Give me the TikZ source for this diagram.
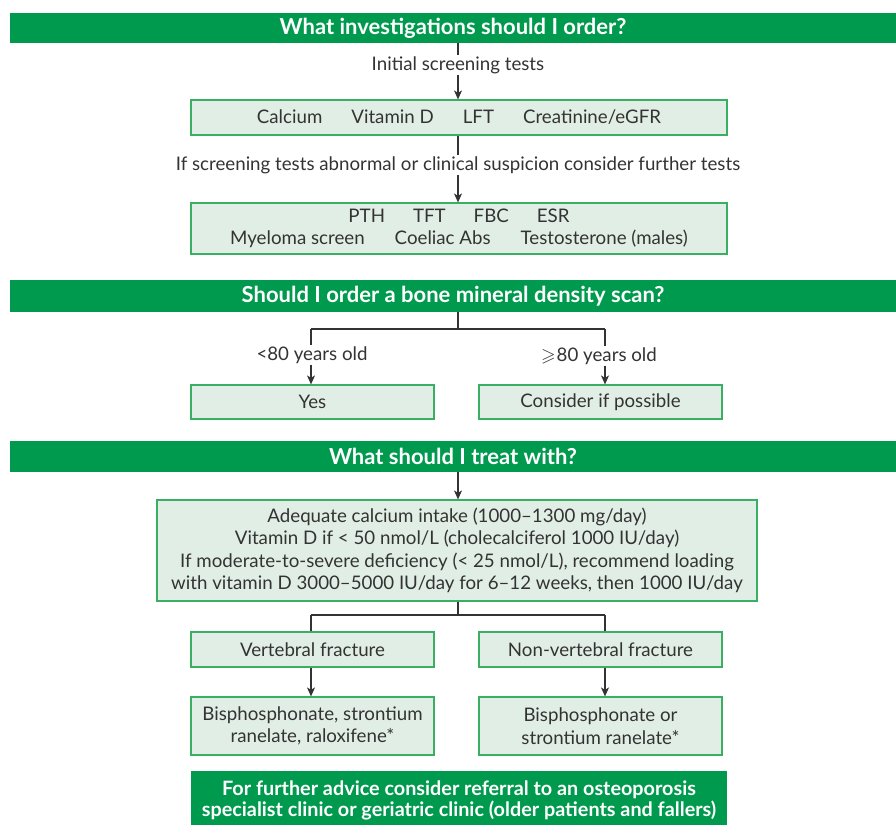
\documentclass[tikz,border=0pt]{standalone}
\usepackage{amssymb}
\usepackage{fontspec}
\setmainfont{Lato}
\usetikzlibrary{arrows.meta}
\definecolor{bandgreen}{HTML}{009A4E}
\definecolor{boxfill}{HTML}{E1EEE5}
\definecolor{boxline}{HTML}{3AAE63}
\definecolor{ink}{HTML}{333333}
\begin{document}
\begin{tikzpicture}[x=1pt,y=-1pt,
  band/.style={fill=bandgreen, text=white, font=\fontsize{22}{24}\selectfont\bfseries, inner sep=0pt, align=center},
  box/.style={draw=boxline, line width=1.2pt, fill=boxfill, text=ink, font=\fontsize{18.7}{22.5}\selectfont, inner sep=0pt, align=center},
  lbl/.style={text=ink, font=\fontsize{18.7}{22}\selectfont, inner sep=1pt},
  conn/.style={draw=ink, line width=1.2pt},
  arr/.style={conn, -{Stealth[length=9pt,width=8pt,inset=2.5pt]}}]
\useasboundingbox (0,0) rectangle (896,824);

% Section 1
\node[band, minimum width=886pt, minimum height=30pt] (band1) at (453,28) {What investigations should I order?};
\node[lbl] (l1) at (458,65) {Initial screening tests};
\node[box, minimum width=536pt, minimum height=35pt] (b1) at (459,117.5) {Calcium\hspace{29pt}Vitamin D\hspace{29pt}LFT\hspace{29pt}Creatinine/eGFR};
\node[lbl] (l2) at (458,165) {If screening tests abnormal or clinical suspicion consider further tests};
\node[box, minimum width=536pt, minimum height=51pt] (b2) at (459,228.5) {PTH\hspace{28pt}TFT\hspace{28pt}FBC\hspace{28pt}ESR\\Myeloma screen\hspace{30pt}Coeliac Abs\hspace{30pt}Testosterone (males)};

\draw[conn] (band1.south -| l1) -- (l1.north);
\draw[arr] (l1.south) -- (l1.south |- b1.north);
\draw[conn] (b1.south -| l2) -- (l2.north);
\draw[arr] (l2.south) -- (l2.south |- b2.north);

% Section 2
\node[band, minimum width=886pt, minimum height=32pt] (band2) at (453,296) {Should I order a bone mineral density scan?};
\coordinate (j2) at (458,329);
\node[box, minimum width=243pt, minimum height=34pt] (yes) at (312.5,402) {Yes};
\node[box, minimum width=243pt, minimum height=34pt] (cons) at (600.5,402) {Consider if possible};
\node[lbl] (l3) at (312,355) {<80 years old};
\node[lbl] (l4) at (599,356) {$\geqslant$\kern1pt80 years old};
\coordinate (bl) at (311,329);
\coordinate (br) at (605,329);
\draw[conn] (band2.south -| j2) -- (j2);
\draw[conn] (bl) -- (br);
\draw[conn] (bl) -- (bl |- l3.north);
\draw[conn] (br) -- (br |- l4.north);
\draw[arr] (bl |- l3.south) -- (bl |- yes.north);
\draw[arr] (br |- l4.south) -- (br |- cons.north);

% Section 3
\node[band, minimum width=886pt, minimum height=31pt] (band3) at (453,456.5) {What should I treat with?};
\node[box, minimum width=600pt, minimum height=101pt] (b3) at (457,550.5) {Adequate calcium intake (1000--1300 mg/day)\\Vitamin D if < 50 nmol/L (cholecalciferol 1000 IU/day)\\If moderate-to-severe deficiency (< 25 nmol/L), recommend loading\\with vitamin D 3000--5000 IU/day for 6--12 weeks, then 1000 IU/day};
\draw[arr] (band3.south -| j2) -- (b3.north -| j2);

\node[box, minimum width=243pt, minimum height=35pt] (vf) at (312.5,649.5) {Vertebral fracture};
\node[box, minimum width=243pt, minimum height=35pt] (nvf) at (600.5,649.5) {Non-vertebral fracture};
\coordinate (j3) at (458,615);
\coordinate (cl) at (311,615);
\coordinate (cr) at (605,615);
\draw[conn] (b3.south -| j3) -- (j3);
\draw[conn] (cl) -- (cr);
\draw[conn] (cl) -- (cl |- vf.north);
\draw[conn] (cr) -- (cr |- nvf.north);

\node[box, minimum width=243pt, minimum height=58pt] (t1) at (312.5,726) {Bisphosphonate, strontium\\ranelate, raloxifene*};
\node[box, minimum width=243pt, minimum height=58pt] (t2) at (600.5,726) {Bisphosphonate or\\strontium ranelate*};
\draw[arr] (cl |- vf.south) -- (cl |- t1.north);
\draw[arr] (cr |- nvf.south) -- (cr |- t2.north);

\node[band, minimum width=536pt, minimum height=59pt, font=\fontsize{19.8}{21.5}\selectfont\bfseries] (fin) at (459,800.5) {For further advice consider referral to an osteoporosis\\specialist clinic or geriatric clinic (older patients and fallers)};
\end{tikzpicture}
\end{document}
